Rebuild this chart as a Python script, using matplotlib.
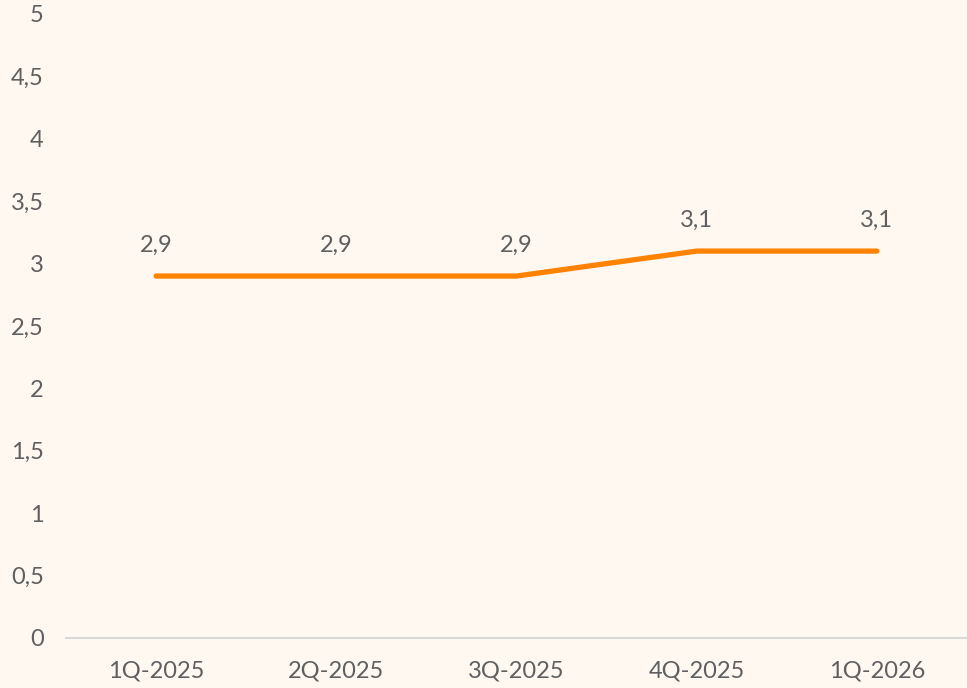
import numpy as np
import matplotlib.pyplot as plt

quarters = ["1Q-2025", "2Q-2025", "3Q-2025", "4Q-2025", "1Q-2026"]
values = [2.9, 2.9, 2.9, 3.1, 3.1]
yticks = [0, 0.5, 1, 1.5, 2, 2.5, 3, 3.5, 4, 4.5, 5]

bg = "#FFF8F1"
txt = "#5F5F5F"

plt.rcParams['font.family'] = ['Lato', 'DejaVu Sans']

fig = plt.figure(figsize=(9.67, 6.88), dpi=100, facecolor=bg)
ax = fig.add_axes([0.0683, 0.0727, 0.9317, 0.907])
ax.set_facecolor(bg)

x = np.arange(len(quarters))
ax.plot(x, values, color="#FF8200", linewidth=3.8, solid_capstyle="round", solid_joinstyle="round")

for xi, v in zip(x, values):
    ax.annotate(str(v).replace(".", ","), (xi, v), xytext=(0, 22), textcoords="offset points",
                ha="center", va="center", fontsize=17, color=txt)

ax.set_xlim(-0.5, len(quarters) - 0.5)
ax.set_ylim(0, 5)
ax.set_xticks(x)
ax.set_xticklabels(quarters)
ax.set_yticks(yticks)
ax.set_yticklabels([("%g" % t).replace(".", ",") for t in yticks])
ax.tick_params(axis="both", length=0, labelsize=17, labelcolor=txt)
ax.tick_params(axis="x", pad=16)
ax.tick_params(axis="y", pad=16)

for s in ["top", "right", "left"]:
    ax.spines[s].set_visible(False)
ax.spines["bottom"].set_color("#D9D9D9")
ax.spines["bottom"].set_linewidth(1.5)

fig.savefig("out.png", dpi=100, facecolor=bg)
